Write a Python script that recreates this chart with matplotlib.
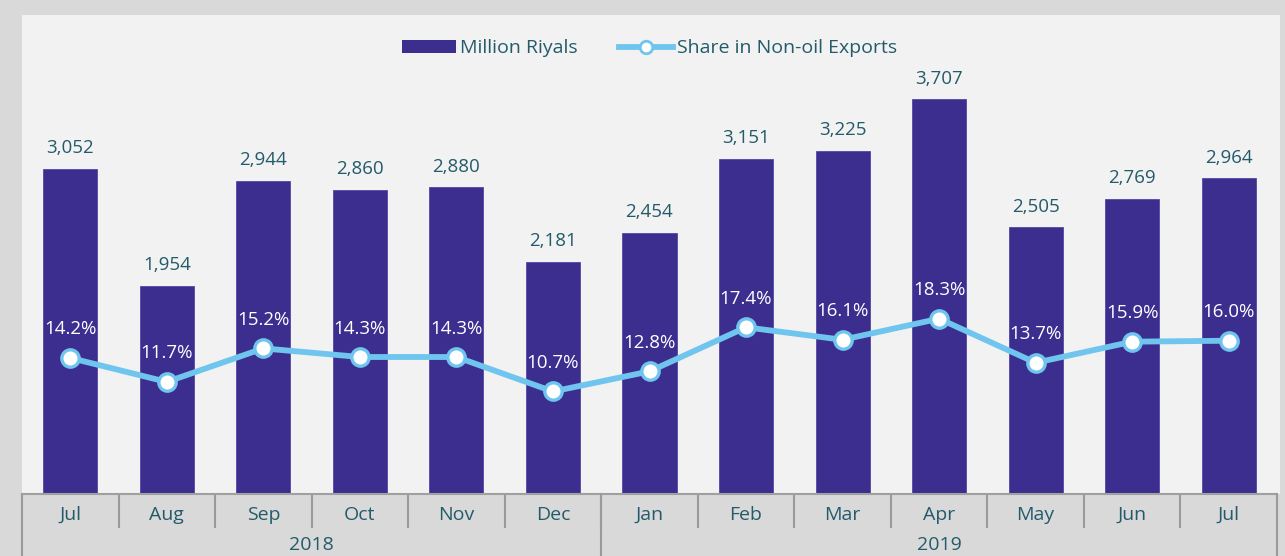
import numpy as np
import matplotlib.pyplot as plt
from matplotlib.patches import Rectangle
from matplotlib.lines import Line2D

plt.rcParams['font.family'] = ['Open Sans', 'DejaVu Sans']

# data
months = ['Jul', 'Aug', 'Sep', 'Oct', 'Nov', 'Dec',
          'Jan', 'Feb', 'Mar', 'Apr', 'May', 'Jun', 'Jul']
years = ['2018', '2019']
year_counts = [6, 7]
riyals = [3052, 1954, 2944, 2860, 2880, 2181, 2454, 3151, 3225, 3707, 2505, 2769, 2964]
share = [14.2, 11.7, 15.2, 14.3, 14.3, 10.7, 12.8, 17.4, 16.1, 18.3, 13.7, 15.9, 16.0]

bar_col = '#3c2e8f'
line_col = '#6fc5ee'
txt_col = '#235b6a'
W, H = 1285, 556

fig = plt.figure(figsize=(W/100, H/100), dpi=100, facecolor='#d9d9d9')
# light plot area, kept behind the axes
fig.patches.append(Rectangle((22/W, 62/H), 1258/W, 479/H, transform=fig.transFigure,
                             facecolor='#f2f2f2', edgecolor='none', zorder=-5))

ax = fig.add_axes([22/W, 62/H, 1255/W, 479/H])
ax.set_facecolor('none')
x = np.arange(len(months))
ax.bar(x, riyals, width=0.56, color=bar_col, edgecolor='#5449a3', linewidth=0.6, zorder=2)
ax.set_xlim(-0.5, len(months) - 0.5)
ax.set_ylim(0, 4500)
for s in ['top', 'left', 'right']:
    ax.spines[s].set_visible(False)
ax.spines['bottom'].set_color('#a0a0a0')
ax.spines['bottom'].set_linewidth(1.5)
ax.set_xticks([])
ax.set_yticks([])
for xi, v in zip(x, riyals):
    ax.annotate(f'{v:,}', (xi, v), xytext=(0, 8.5), textcoords='offset points',
                ha='center', va='bottom', fontsize=13.5, color=txt_col)

ax2 = ax.twinx()
ax2.set_ylim(0, 50)
ax2.axis('off')
ax2.plot(x, share, color=line_col, lw=4.2, marker='o', markersize=12.5,
         markerfacecolor='white', markeredgecolor=line_col, markeredgewidth=2.4,
         solid_capstyle='round', zorder=3)
for xi, v in zip(x, share):
    ax2.annotate(f'{v:.1f}%', (xi, v), xytext=(0, 20.5), textcoords='offset points',
                 ha='center', va='center', fontsize=13.5, color='white')

handles = [Rectangle((0, 0), 1, 1, facecolor=bar_col),
           Line2D([], [], color=line_col, lw=4.2, marker='o', markersize=9,
                  markerfacecolor='white', markeredgecolor=line_col, markeredgewidth=2)]
ax2.legend(handles, ['Million Riyals', 'Share in Non-oil Exports'], loc='upper center',
           bbox_to_anchor=(0.5, 1.0), ncol=2, frameon=False, fontsize=14,
           labelcolor=txt_col, handlelength=2.8, handletextpad=0.2,
           columnspacing=2.1, borderaxespad=0.85)

# category band below the bars
band = fig.add_axes([22/W, 0, 1255/W, 62/H])
band.set_facecolor('#d9d9d9')
band.set_xlim(-0.5, len(months) - 0.5)
band.set_ylim(0, 62)
band.axis('off')
edge = '#9a9a9a'
for i, m in enumerate(months):
    band.text(i, 41, m, ha='center', va='center', fontsize=14, color=txt_col)
    if i > 0:
        band.plot([i - 0.5, i - 0.5], [29, 60], color=edge, lw=1.5)
start = 0
for yr, n in zip(years, year_counts):
    band.text(start + n/2 - 0.5, 11, yr, ha='center', va='center', fontsize=14, color=txt_col)
    start += n
bounds = np.cumsum([0] + year_counts) - 0.5
for b in bounds:
    band.plot([b, b], [0, 62], color=edge, lw=1.5, clip_on=False)

fig.savefig('out.png', dpi=100, facecolor=fig.get_facecolor())
